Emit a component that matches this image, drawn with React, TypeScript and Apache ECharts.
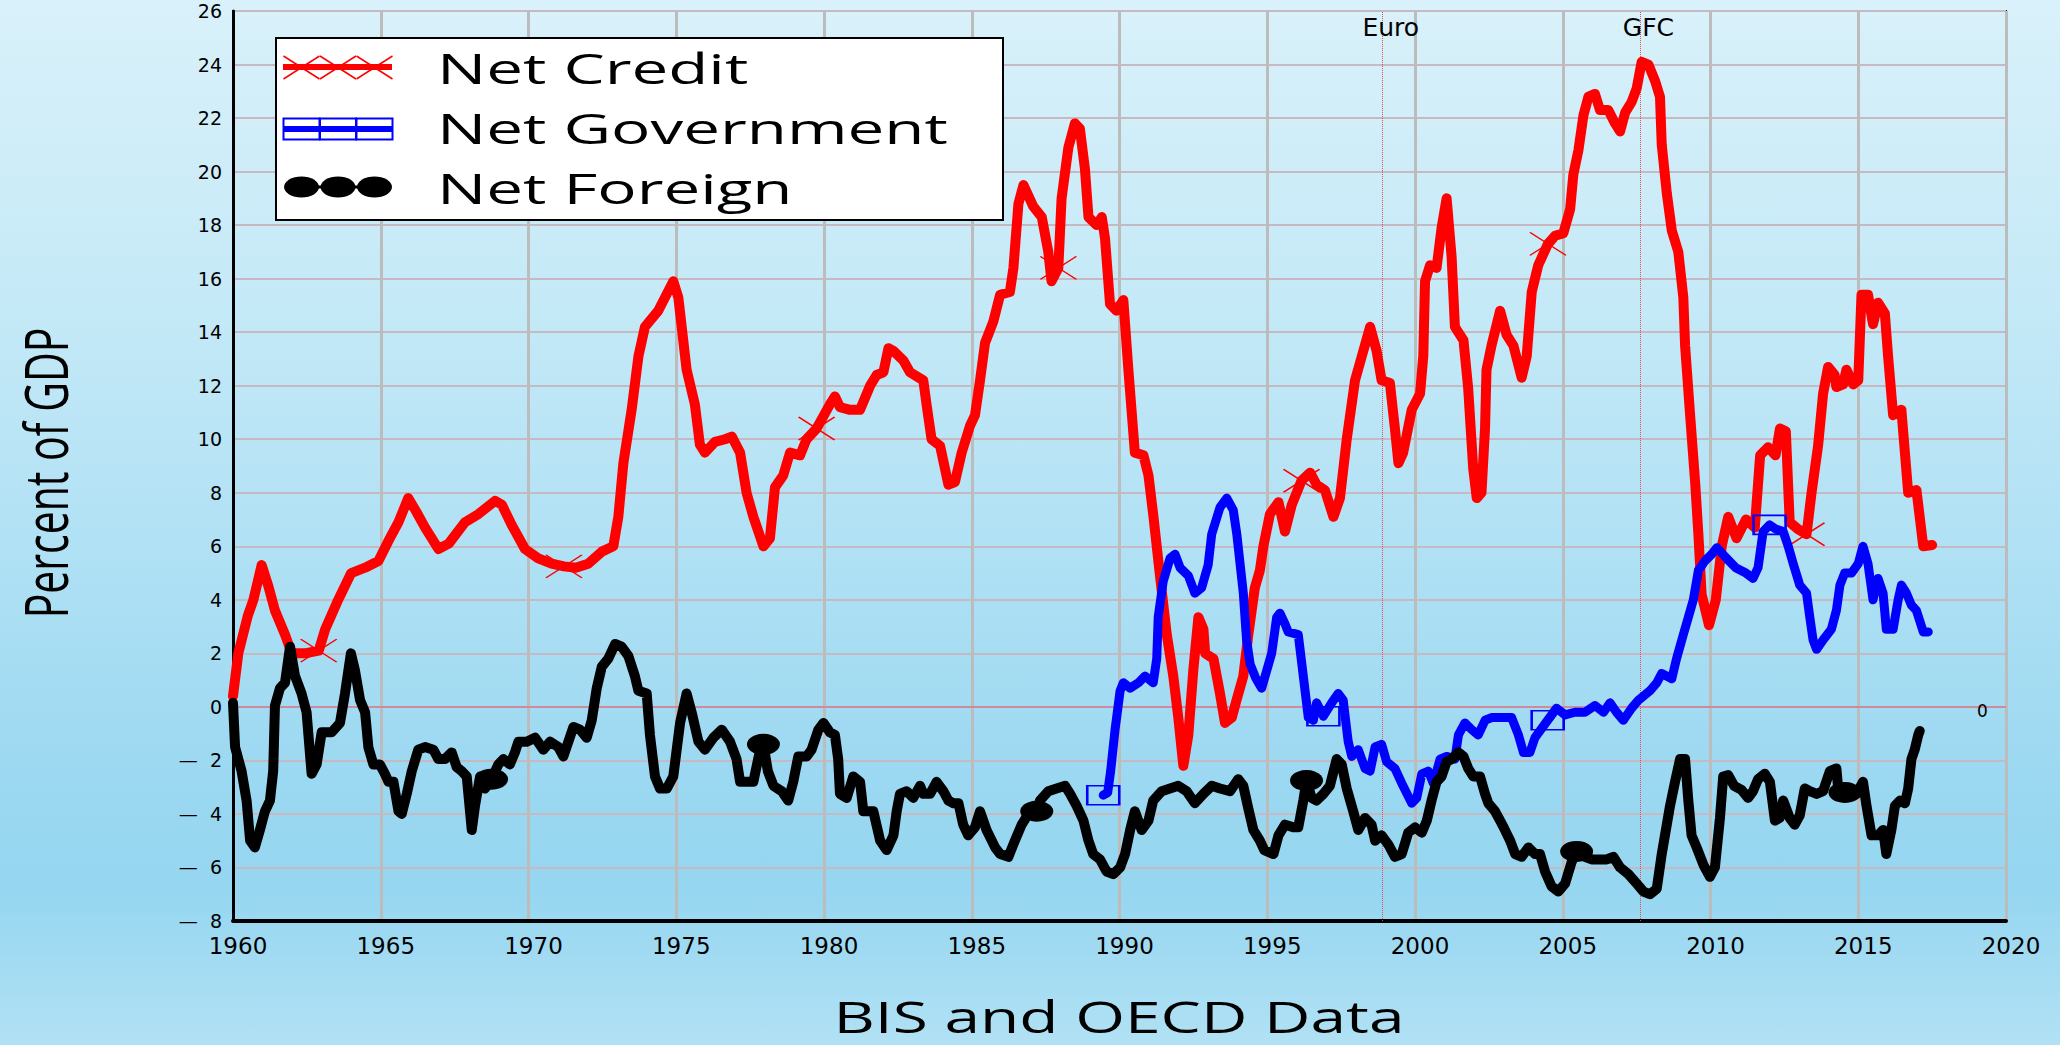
import React, { useEffect, useRef } from "react";
import * as echarts from "echarts";

// ---- data: [year, percent of GDP] ----
const netCredit: [number, number][] = [
  [1960.0, 0.4], [1960.18, 2.0], [1960.5, 3.4], [1960.69, 4.0], [1960.97, 5.3], [1961.2, 4.5], [1961.42, 3.6],
  [1961.76, 2.7], [1961.99, 2.0], [1962.44, 2.0], [1962.9, 2.1], [1963.12, 2.9], [1963.56, 4.0], [1964.0, 5.0],
  [1964.47, 5.2], [1964.92, 5.45], [1965.26, 6.2], [1965.6, 6.9], [1965.93, 7.8], [1966.2, 7.3], [1966.5, 6.7],
  [1966.95, 5.9], [1967.3, 6.1], [1967.85, 6.9], [1968.3, 7.2], [1968.87, 7.7], [1969.1, 7.55], [1969.43, 6.8],
  [1969.88, 5.9], [1970.33, 5.55], [1970.78, 5.35], [1971.2, 5.25], [1971.6, 5.2], [1972.02, 5.35], [1972.48, 5.8],
  [1972.87, 6.0], [1973.04, 7.1], [1973.21, 9.1], [1973.49, 11.1], [1973.72, 13.1], [1973.94, 14.2], [1974.39, 14.8],
  [1974.9, 15.9], [1975.07, 15.3], [1975.35, 12.6], [1975.63, 11.3], [1975.8, 9.8], [1975.97, 9.5], [1976.31, 9.9],
  [1976.65, 10.0], [1976.88, 10.1], [1977.16, 9.5], [1977.38, 8.0], [1977.61, 7.1], [1977.95, 6.0], [1978.17, 6.3],
  [1978.34, 8.2], [1978.62, 8.65], [1978.85, 9.5], [1979.19, 9.4], [1979.41, 10.0], [1979.75, 10.4], [1980.2, 11.3],
  [1980.37, 11.6], [1980.54, 11.2], [1980.88, 11.1], [1981.22, 11.1], [1981.56, 12.0], [1981.78, 12.4], [1982.01, 12.5],
  [1982.18, 13.4], [1982.35, 13.3], [1982.68, 12.95], [1982.91, 12.5], [1983.36, 12.2], [1983.47, 11.3], [1983.64, 10.0],
  [1983.93, 9.75], [1984.21, 8.3], [1984.43, 8.4], [1984.66, 9.5], [1984.94, 10.5], [1985.11, 10.9], [1985.28, 12.2],
  [1985.45, 13.6], [1985.73, 14.4], [1985.96, 15.4], [1986.29, 15.5], [1986.41, 16.4], [1986.58, 18.8], [1986.75, 19.5],
  [1987.08, 18.7], [1987.37, 18.3], [1987.59, 17.0], [1987.7, 15.9], [1987.93, 16.4], [1988.04, 19.0], [1988.27, 20.9],
  [1988.49, 21.8], [1988.66, 21.6], [1988.83, 20.1], [1988.95, 18.3], [1989.23, 18.0], [1989.4, 18.3], [1989.51, 17.5],
  [1989.68, 15.05], [1989.9, 14.8], [1990.13, 15.2], [1990.3, 12.6], [1990.52, 9.5], [1990.81, 9.4], [1990.98, 8.65],
  [1991.15, 7.1], [1991.37, 4.9], [1991.6, 2.7], [1991.82, 1.15], [1991.99, -0.4], [1992.16, -2.2], [1992.33, -1.05],
  [1992.5, 1.4], [1992.67, 3.35], [1992.84, 2.9], [1992.9, 2.0], [1993.18, 1.8], [1993.4, 0.5], [1993.57, -0.6],
  [1993.8, -0.4], [1993.96, 0.25], [1994.19, 1.15], [1994.36, 2.7], [1994.58, 4.45], [1994.75, 5.1], [1994.87, 6.0],
  [1995.09, 7.2], [1995.38, 7.65], [1995.6, 6.55], [1995.83, 7.55], [1996.16, 8.45], [1996.45, 8.75], [1996.67, 8.3],
  [1996.95, 8.1], [1997.24, 7.1], [1997.46, 7.8], [1997.69, 10.0], [1997.97, 12.2], [1998.2, 13.1], [1998.48, 14.2],
  [1998.7, 13.3], [1998.87, 12.2], [1999.15, 12.1], [1999.32, 10.4], [1999.44, 9.1], [1999.6, 9.5], [1999.89, 11.1],
  [2000.17, 11.7], [2000.28, 13.1], [2000.34, 15.9], [2000.51, 16.5], [2000.73, 16.4], [2000.9, 17.9], [2001.07, 19.0],
  [2001.24, 16.8], [2001.35, 14.2], [2001.64, 13.7], [2001.8, 11.9], [2001.97, 8.9], [2002.09, 7.8], [2002.25, 8.0],
  [2002.37, 10.4], [2002.42, 12.6], [2002.59, 13.5], [2002.88, 14.8], [2003.1, 13.9], [2003.33, 13.5], [2003.61, 12.3],
  [2003.78, 13.1], [2003.95, 15.5], [2004.17, 16.5], [2004.5, 17.3], [2004.74, 17.6], [2005.02, 17.7], [2005.25, 18.6],
  [2005.36, 19.9], [2005.53, 20.8], [2005.7, 22.1], [2005.87, 22.8], [2006.09, 22.9], [2006.26, 22.3], [2006.54, 22.3],
  [2006.77, 21.8], [2006.94, 21.5], [2007.11, 22.2], [2007.33, 22.6], [2007.5, 23.1], [2007.67, 24.1], [2007.9, 24.0],
  [2008.12, 23.4], [2008.29, 22.8], [2008.35, 21.0], [2008.52, 19.2], [2008.69, 17.8], [2008.91, 17.0], [2009.08, 15.3],
  [2009.14, 13.5], [2009.31, 10.9], [2009.48, 8.4], [2009.59, 6.45], [2009.7, 4.2], [2009.95, 3.05], [2010.18, 4.0],
  [2010.38, 6.0], [2010.6, 7.1], [2010.88, 6.3], [2011.2, 7.0], [2011.5, 6.7], [2011.68, 9.4], [2011.95, 9.7],
  [2012.2, 9.4], [2012.35, 10.4], [2012.55, 10.3], [2012.68, 6.9], [2012.95, 6.65], [2013.25, 6.45], [2013.42, 8.0],
  [2013.64, 9.75], [2013.81, 11.7], [2013.98, 12.7], [2014.2, 12.4], [2014.26, 11.95], [2014.49, 12.05], [2014.6, 12.6],
  [2014.83, 12.05], [2015.0, 12.2], [2015.11, 15.4], [2015.33, 15.4], [2015.5, 14.3], [2015.67, 15.1], [2015.9, 14.7],
  [2016.01, 13.1], [2016.18, 10.9], [2016.46, 11.1], [2016.69, 8.0], [2016.97, 8.1], [2017.2, 6.0], [2017.5, 6.05],
];

const netGovernment: [number, number][] = [
  [1989.45, -3.3], [1989.6, -3.2], [1989.7, -2.4], [1989.85, -0.85], [1990.02, 0.6], [1990.13, 0.9], [1990.36, 0.7],
  [1990.64, 0.9], [1990.86, 1.15], [1991.14, 0.9], [1991.26, 1.8], [1991.31, 3.35], [1991.48, 4.7], [1991.71, 5.55],
  [1991.88, 5.7], [1992.05, 5.2], [1992.33, 4.9], [1992.55, 4.25], [1992.78, 4.45], [1993.0, 5.3], [1993.12, 6.45],
  [1993.4, 7.45], [1993.63, 7.8], [1993.85, 7.35], [1993.97, 6.45], [1994.08, 5.35], [1994.19, 4.25], [1994.3, 2.5],
  [1994.42, 1.6], [1994.6, 1.1], [1994.81, 0.7], [1995.15, 2.0], [1995.32, 3.35], [1995.43, 3.5], [1995.6, 3.1],
  [1995.71, 2.8], [1996.05, 2.7], [1996.22, 1.15], [1996.39, -0.4], [1996.56, -0.5], [1996.67, 0.15], [1996.9, -0.35],
  [1997.18, 0.15], [1997.4, 0.5], [1997.57, 0.25], [1997.74, -1.3], [1997.86, -1.85], [1998.08, -1.6], [1998.31, -2.3],
  [1998.48, -2.4], [1998.65, -1.5], [1998.87, -1.4], [1999.04, -2.05], [1999.32, -2.3], [1999.55, -2.85], [1999.89, -3.6],
  [2000.06, -3.4], [2000.23, -2.5], [2000.45, -2.4], [2000.62, -2.85], [2000.85, -1.95], [2001.07, -1.85], [2001.35, -1.95],
  [2001.47, -1.05], [2001.69, -0.6], [2001.92, -0.85], [2002.14, -1.05], [2002.37, -0.5], [2002.59, -0.4], [2002.93, -0.4],
  [2003.27, -0.4], [2003.5, -1.05], [2003.67, -1.7], [2003.89, -1.7], [2004.06, -1.15], [2004.49, -0.5], [2004.79, -0.05],
  [2005.08, -0.3], [2005.41, -0.2], [2005.75, -0.2], [2006.09, 0.05], [2006.38, -0.2], [2006.6, 0.15], [2006.82, -0.2],
  [2007.05, -0.5], [2007.33, -0.05], [2007.56, 0.25], [2007.95, 0.6], [2008.18, 0.9], [2008.35, 1.25], [2008.69, 1.05],
  [2008.85, 1.8], [2009.08, 2.7], [2009.25, 3.35], [2009.42, 4.0], [2009.59, 5.1], [2009.81, 5.45], [2010.04, 5.7],
  [2010.22, 5.95], [2010.5, 5.6], [2010.85, 5.2], [2011.2, 5.0], [2011.44, 4.8], [2011.61, 5.2], [2011.78, 6.55],
  [2012.0, 6.8], [2012.2, 6.65], [2012.46, 6.55], [2012.63, 6.0], [2012.8, 5.35], [2013.02, 4.55], [2013.25, 4.25],
  [2013.36, 3.35], [2013.47, 2.5], [2013.59, 2.15], [2013.81, 2.5], [2014.09, 2.9], [2014.26, 3.6], [2014.38, 4.55],
  [2014.54, 5.0], [2014.77, 5.0], [2015.0, 5.35], [2015.16, 6.0], [2015.33, 5.35], [2015.5, 4.0], [2015.67, 4.8],
  [2015.84, 4.25], [2015.95, 2.9], [2016.18, 2.9], [2016.35, 4.0], [2016.46, 4.55], [2016.63, 4.25], [2016.8, 3.8],
  [2016.97, 3.6], [2017.2, 2.8], [2017.37, 2.8],
];

const netForeign: [number, number][] = [
  [1960.0, 0.15], [1960.07, -1.5], [1960.29, -2.4], [1960.46, -3.5], [1960.58, -5.0], [1960.74, -5.25], [1960.91, -4.6],
  [1961.08, -3.9], [1961.25, -3.5], [1961.36, -2.4], [1961.42, 0.05], [1961.59, 0.7], [1961.76, 0.9], [1961.93, 2.25],
  [1962.1, 1.15], [1962.32, 0.5], [1962.49, -0.2], [1962.66, -2.5], [1962.83, -2.15], [1963.0, -0.95], [1963.34, -0.95],
  [1963.62, -0.6], [1963.79, 0.5], [1963.99, 2.0], [1964.13, 1.35], [1964.3, 0.25], [1964.47, -0.2], [1964.58, -1.5],
  [1964.75, -2.15], [1964.97, -2.15], [1965.14, -2.5], [1965.26, -2.8], [1965.43, -2.8], [1965.6, -3.9], [1965.71, -4.0],
  [1965.88, -3.25], [1966.05, -2.4], [1966.27, -1.6], [1966.5, -1.5], [1966.78, -1.6], [1966.95, -1.95], [1967.17, -1.95],
  [1967.4, -1.7], [1967.57, -2.25], [1967.74, -2.4], [1967.91, -2.6], [1968.08, -4.6], [1968.19, -3.7], [1968.36, -2.6],
  [1968.53, -3.05], [1968.75, -2.7], [1968.98, -2.15], [1969.15, -1.95], [1969.37, -2.15], [1969.54, -1.7], [1969.66, -1.3],
  [1969.94, -1.3], [1970.22, -1.15], [1970.5, -1.6], [1970.73, -1.3], [1971.01, -1.5], [1971.18, -1.85], [1971.35, -1.3],
  [1971.52, -0.75], [1971.74, -0.85], [1971.97, -1.15], [1972.14, -0.5], [1972.31, 0.7], [1972.48, 1.5], [1972.7, 1.8],
  [1972.93, 2.35], [1973.15, 2.25], [1973.38, 1.9], [1973.6, 1.15], [1973.72, 0.6], [1974.0, 0.5], [1974.11, -1.05],
  [1974.28, -2.6], [1974.45, -3.05], [1974.68, -3.05], [1974.9, -2.6], [1975.13, -0.6], [1975.35, 0.5], [1975.52, -0.2],
  [1975.75, -1.3], [1975.97, -1.6], [1976.26, -1.15], [1976.54, -0.85], [1976.82, -1.3], [1977.04, -1.95], [1977.16, -2.8],
  [1977.61, -2.8], [1977.8, -1.8], [1977.95, -1.4], [1978.1, -2.4], [1978.29, -2.95], [1978.57, -3.15], [1978.79, -3.5],
  [1978.96, -2.8], [1979.13, -1.85], [1979.41, -1.85], [1979.58, -1.6], [1979.81, -0.85], [1979.98, -0.6], [1980.2, -0.95],
  [1980.37, -1.05], [1980.48, -1.95], [1980.54, -3.25], [1980.77, -3.4], [1980.99, -2.6], [1981.22, -2.8], [1981.33, -3.9],
  [1981.67, -3.9], [1981.9, -5.0], [1982.12, -5.35], [1982.35, -4.8], [1982.46, -3.9], [1982.57, -3.25], [1982.8, -3.15],
  [1983.02, -3.4], [1983.25, -2.95], [1983.36, -3.25], [1983.59, -3.25], [1983.81, -2.8], [1984.04, -3.15], [1984.21, -3.5],
  [1984.38, -3.6], [1984.55, -3.6], [1984.71, -4.4], [1984.88, -4.8], [1985.11, -4.5], [1985.28, -3.9], [1985.5, -4.6],
  [1985.79, -5.25], [1985.96, -5.5], [1986.24, -5.6], [1986.46, -5.0], [1986.69, -4.4], [1986.97, -3.9], [1987.2, -3.9],
  [1987.31, -3.5], [1987.59, -3.15], [1987.87, -3.05], [1988.16, -2.95], [1988.33, -3.25], [1988.55, -3.7], [1988.78, -4.25],
  [1988.95, -5.0], [1989.11, -5.5], [1989.34, -5.7], [1989.56, -6.15], [1989.79, -6.25], [1990.02, -6.0], [1990.19, -5.5],
  [1990.36, -4.6], [1990.52, -3.9], [1990.75, -4.6], [1990.98, -4.25], [1991.14, -3.5], [1991.43, -3.15], [1991.71, -3.05],
  [1991.99, -2.95], [1992.27, -3.15], [1992.55, -3.6], [1992.84, -3.25], [1993.12, -2.95], [1993.4, -3.05], [1993.74, -3.15],
  [1994.02, -2.7], [1994.19, -2.95], [1994.36, -3.8], [1994.53, -4.6], [1994.75, -5.0], [1994.9, -5.35], [1995.21, -5.5],
  [1995.38, -4.8], [1995.6, -4.4], [1995.88, -4.5], [1996.05, -4.5], [1996.22, -3.5], [1996.33, -2.75], [1996.5, -3.4],
  [1996.67, -3.5], [1996.9, -3.25], [1997.12, -2.95], [1997.35, -1.95], [1997.52, -2.15], [1997.69, -3.05], [1997.91, -3.9],
  [1998.08, -4.6], [1998.31, -4.15], [1998.53, -4.4], [1998.65, -5.0], [1998.87, -4.8], [1999.1, -5.15], [1999.32, -5.6],
  [1999.55, -5.5], [1999.77, -4.7], [2000.0, -4.5], [2000.23, -4.7], [2000.4, -4.25], [2000.56, -3.5], [2000.73, -2.8],
  [2000.9, -2.6], [2001.07, -2.05], [2001.24, -1.95], [2001.47, -1.7], [2001.64, -1.85], [2001.8, -2.3], [2001.97, -2.6],
  [2002.2, -2.6], [2002.37, -3.25], [2002.48, -3.6], [2002.71, -3.9], [2002.88, -4.25], [2003.0, -4.5], [2003.22, -5.0],
  [2003.39, -5.5], [2003.61, -5.6], [2003.84, -5.25], [2004.06, -5.5], [2004.23, -5.5], [2004.4, -6.15], [2004.62, -6.7],
  [2004.85, -6.9], [2005.08, -6.6], [2005.3, -5.8], [2005.47, -5.4], [2005.75, -5.6], [2005.98, -5.7], [2006.2, -5.7],
  [2006.49, -5.7], [2006.71, -5.6], [2006.94, -6.0], [2007.22, -6.25], [2007.5, -6.6], [2007.73, -6.9], [2007.95, -7.0],
  [2008.18, -6.8], [2008.35, -5.5], [2008.63, -3.7], [2008.8, -2.8], [2008.97, -1.95], [2009.14, -1.95], [2009.25, -3.5],
  [2009.36, -4.8], [2009.53, -5.25], [2009.76, -5.9], [2009.98, -6.35], [2010.15, -6.0], [2010.32, -4.15], [2010.43, -2.6],
  [2010.6, -2.55], [2010.8, -2.95], [2011.05, -3.1], [2011.27, -3.4], [2011.44, -3.15], [2011.61, -2.7], [2011.84, -2.5],
  [2012.01, -2.8], [2012.18, -4.25], [2012.34, -4.15], [2012.46, -3.5], [2012.68, -4.15], [2012.85, -4.4], [2013.02, -4.05],
  [2013.19, -3.05], [2013.36, -3.15], [2013.59, -3.25], [2013.81, -3.15], [2014.04, -2.4], [2014.26, -2.3], [2014.32, -3.05],
  [2014.55, -3.2], [2014.94, -3.25], [2015.16, -2.8], [2015.28, -3.7], [2015.45, -4.8], [2015.67, -4.8], [2015.84, -4.6],
  [2015.95, -5.5], [2016.12, -4.6], [2016.24, -3.7], [2016.41, -3.5], [2016.58, -3.6], [2016.69, -3.05], [2016.8, -1.95],
  [2016.91, -1.6], [2017.03, -1.05], [2017.08, -0.9],
];

// years at which the series carry a marker
const creditMarkerYears = [1962.9, 1971.2, 1979.75, 1987.93, 1996.16, 2004.5, 2013.25];
const governmentMarkerYears = [1989.45, 1996.9, 2004.49, 2012.0];
const foreignMarkerYears = [1968.75, 1977.95, 1987.2, 1996.33, 2005.47, 2014.55];

// event annotations
const eventLines = [
  { name: "Euro", year: 1998.9 },
  { name: "GFC", year: 2007.62 },
];

const seriesNames = ["Net Credit", "Net Government", "Net Foreign"];
const chartTitle = "BIS and OECD Data";
const yAxisTitle = "Percent of GDP";

const RED = "#ff0000";
const BLUE = "#0000ff";
const BLACK = "#000000";

function buildData(points: [number, number][], markerYears: number[], marker: any) {
  return points.map(([x, y]) =>
    markerYears.includes(x) ? { value: [x, y], ...marker } : { value: [x, y] }
  );
}

export default function App() {
  const ref = useRef<HTMLDivElement>(null);

  useEffect(() => {
    if (!ref.current) return;
    const chart = echarts.init(ref.current, null, { renderer: "svg" });

    const xMarker = {
      symbol: "path://M0,0L36,23M0,23L36,0",
      symbolSize: [36, 23],
      itemStyle: { color: RED, borderColor: RED, borderWidth: 1.5 },
    };
    const rectMarker = {
      symbol: "rect",
      symbolSize: [32, 19],
      itemStyle: { color: "rgba(0,0,0,0)", borderColor: BLUE, borderWidth: 2 },
    };
    const ellipseMarker = {
      symbol: "circle",
      symbolSize: [33, 21],
      itemStyle: { color: BLACK, borderColor: BLACK, borderWidth: 0 },
    };

    const lineCommon = {
      type: "line",
      showSymbol: true,
      showAllSymbol: true,
      symbol: "none",
      silent: true,
      emphasis: { disabled: true },
      animation: false,
    };

    const legendTextStyle = (t: string) => ({
      text: t,
      fill: "#000",
      fontSize: 42,
      fontFamily: "Open Sans",
      align: "left",
      verticalAlign: "middle",
      textAlign: "left",
      textVerticalAlign: "middle",
    });

    const xCross = (cx: number) => [
      { type: "line", z: 101, shape: { x1: cx - 18, y1: 56, x2: cx + 18, y2: 79 }, style: { stroke: RED, lineWidth: 1.5 } },
      { type: "line", z: 101, shape: { x1: cx - 18, y1: 79, x2: cx + 18, y2: 56 }, style: { stroke: RED, lineWidth: 1.5 } },
    ];

    const option: any = {
      animation: false,
      backgroundColor: "transparent",
      grid: {
        left: 233,
        right: 54,
        top: 11,
        bottom: 124,
        show: true,
        borderColor: "#111",
        borderWidth: 2,
        backgroundColor: "transparent",
        containLabel: false,
      },
      xAxis: {
        type: "value",
        min: 1960,
        max: 2020,
        interval: 5,
        axisLine: { show: true, onZero: false, lineStyle: { color: "#000", width: 4 } },
        axisTick: { show: false },
        splitLine: { show: true, lineStyle: { color: "#bcbcbc", width: 3 } },
        axisLabel: {
          show: true,
          showMinLabel: true,
          showMaxLabel: true,
          color: "#000",
          fontFamily: "DejaVu Sans",
          fontSize: 23,
          margin: 13,
          padding: [0, 0, 0, 10],
          formatter: (v: number) => String(v),
        },
      },
      yAxis: {
        type: "value",
        min: -8,
        max: 26,
        interval: 2,
        axisLine: { show: true, onZero: false, lineStyle: { color: "#000", width: 3 } },
        axisTick: { show: false },
        splitLine: { show: true, lineStyle: { color: "#c7b9c1", width: 2 } },
        axisLabel: {
          show: true,
          color: "#000",
          fontFamily: "DejaVu Sans",
          fontSize: 19,
          margin: 11,
          padding: [6, 0, 0, 0],
          formatter: (v: number) => (v < 0 ? "\u2014  " + Math.abs(v) : String(v)),
        },
      },
      series: [
        {
          ...lineCommon,
          name: seriesNames[0],
          color: RED,
          data: buildData(netCredit, creditMarkerYears, xMarker),
          lineStyle: { color: RED, width: 10, cap: "round", join: "round" },
          z: 3,
          markLine: {
            silent: true,
            symbol: "none",
            z: 1,
            label: { show: false },
            data: [
              { yAxis: 0, lineStyle: { color: "#cc8c9c", width: 2, type: "solid" } },
              ...eventLines.map((e) => ({
                xAxis: e.year,
                lineStyle: { color: "#e05050", width: 1, type: "dotted" },
              })),
            ],
          },
          markPoint: {
            silent: true,
            symbol: "circle",
            symbolSize: 1,
            itemStyle: { color: "rgba(0,0,0,0)" },
            label: {
              show: true,
              position: "inside",
              formatter: "{b}",
              color: "#000",
              fontFamily: "DejaVu Sans",
              fontSize: 25,
            },
            data: [
              ...eventLines.map((e) => ({ name: e.name, coord: [e.year + 0.28, 25.4] })),
              { name: "0", coord: [2019.2, -0.15], label: { fontSize: 17 } },
            ],
          },
        },
        {
          ...lineCommon,
          name: seriesNames[1],
          color: BLUE,
          data: buildData(netGovernment, governmentMarkerYears, rectMarker),
          lineStyle: { color: BLUE, width: 9, cap: "round", join: "round" },
          z: 4,
        },
        {
          ...lineCommon,
          name: seriesNames[2],
          color: BLACK,
          data: buildData(netForeign, foreignMarkerYears, ellipseMarker),
          lineStyle: { color: BLACK, width: 10, cap: "round", join: "round" },
          z: 5,
        },
      ],
      graphic: [
        // legend box
        {
          type: "rect",
          z: 100,
          shape: { x: 276, y: 38, width: 727, height: 182 },
          style: { fill: "#ffffff", stroke: "#000", lineWidth: 2 },
        },
        // Net Credit key
        { type: "line", z: 101, shape: { x1: 283, y1: 67, x2: 392, y2: 67 }, style: { stroke: RED, lineWidth: 6 } },
        ...xCross(301.5),
        ...xCross(338),
        ...xCross(374.5),
        { type: "text", z: 101, x: 437, y: 68, scaleX: 1.56, style: legendTextStyle(seriesNames[0]) },
        // Net Government key
        { type: "line", z: 101, shape: { x1: 283, y1: 129, x2: 392, y2: 129 }, style: { stroke: BLUE, lineWidth: 6 } },
        ...[283.5, 320, 356.5].map((x) => ({
          type: "rect",
          z: 101,
          shape: { x, y: 118.5, width: 36, height: 21 },
          style: { fill: "none", stroke: BLUE, lineWidth: 2 },
        })),
        { type: "text", z: 101, x: 437, y: 128, scaleX: 1.56, style: legendTextStyle(seriesNames[1]) },
        // Net Foreign key
        { type: "line", z: 101, shape: { x1: 285, y1: 187, x2: 390, y2: 187 }, style: { stroke: BLACK, lineWidth: 3 } },
        ...[301.5, 338, 374.5].map((cx) => ({
          type: "ellipse",
          z: 102,
          shape: { cx, cy: 187, rx: 17.5, ry: 10.5 },
          style: { fill: BLACK },
        })),
        { type: "text", z: 101, x: 437, y: 188, scaleX: 1.56, style: legendTextStyle(seriesNames[2]) },
        // y axis title
        {
          type: "text",
          z: 50,
          x: 45,
          y: 473,
          rotation: Math.PI / 2,
          scaleY: 1.45,
          style: {
            text: yAxisTitle,
            fill: "#000",
            fontSize: 41,
            fontFamily: "Open Sans",
            align: "center",
            verticalAlign: "middle",
            textAlign: "center",
            textVerticalAlign: "middle",
          },
        },
        // bottom title
        {
          type: "text",
          z: 50,
          x: 1119,
          y: 1016,
          scaleX: 1.49,
          style: {
            text: chartTitle,
            fill: "#000",
            fontSize: 43,
            fontFamily: "Open Sans",
            align: "center",
            verticalAlign: "middle",
            textAlign: "center",
            textVerticalAlign: "middle",
          },
        },
      ],
    };

    chart.setOption(option);
    return () => chart.dispose();
  }, []);

  return (
    <div
      ref={ref}
      style={{
        position: "fixed",
        left: 0,
        top: 0,
        width: 2060,
        height: 1045,
        background:
          "linear-gradient(180deg, #d9f1fa 0%, #c4e9f7 30%, #aee0f4 55%, #9bd8f1 75%, #96d6f0 85%, #a4dcf3 93%, #b1e1f4 100%)",
      }}
    />
  );
}
